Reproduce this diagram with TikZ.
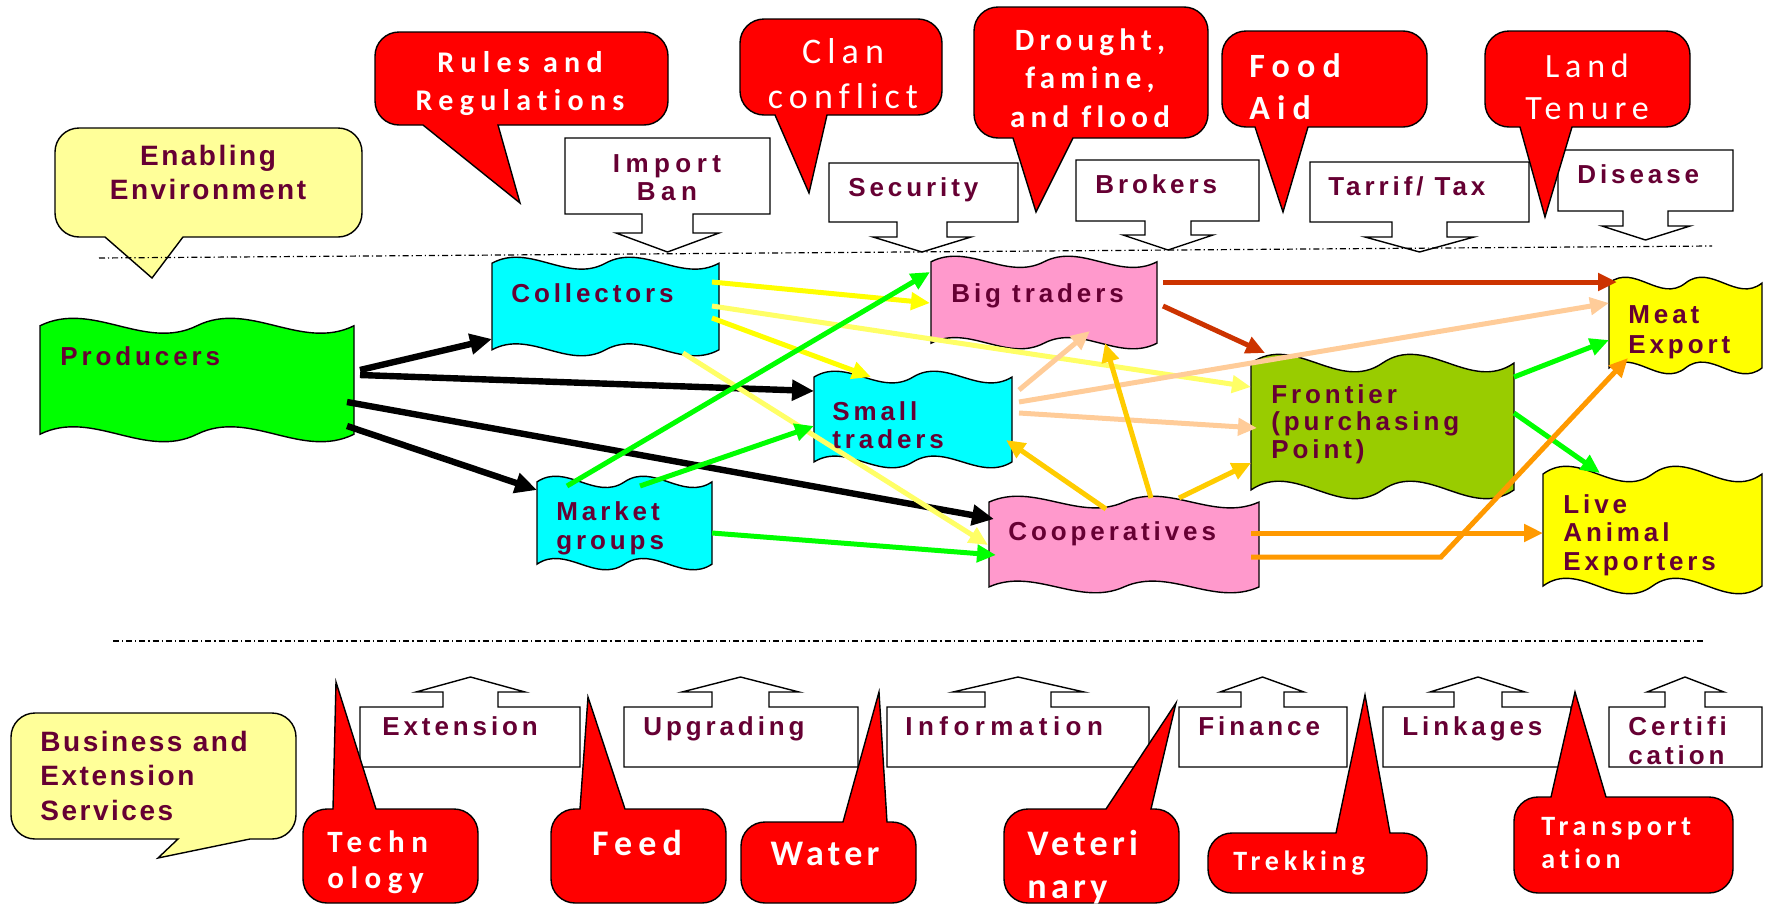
\documentclass[tikz,border=0pt]{standalone}
\usepackage{fontspec}
\usetikzlibrary{arrows.meta}

% label fonts
\newfontfamily\labf{Liberation Sans}[LetterSpace=15]
\newfontfamily\labw{Liberation Sans}[LetterSpace=21]
\newfontfamily\envf{Liberation Sans}[LetterSpace=9]
\newfontfamily\calA{Carlito}[LetterSpace=21,Ligatures=NoCommon]
\newfontfamily\calB{Carlito}[LetterSpace=17,Ligatures=NoCommon]
\newfontfamily\calC{Carlito}[LetterSpace=12,Ligatures=NoCommon]

% colours
\definecolor{txt}{HTML}{660033}
\definecolor{calred}{HTML}{FF0000}
\definecolor{paleyel}{HTML}{FFFF99}
\definecolor{prodgreen}{HTML}{00FF00}
\definecolor{cyanbox}{HTML}{00FFFF}
\definecolor{pinkbox}{HTML}{FF99CC}
\definecolor{boxolive}{HTML}{99CC00}
\definecolor{yelbox}{HTML}{FFFF00}
\definecolor{ayel}{HTML}{FFFF00}
\definecolor{apale}{HTML}{FFFF66}
\definecolor{arust}{HTML}{CC3300}
\definecolor{apeach}{HTML}{FFCC99}
\definecolor{agold}{HTML}{FFCC00}
\definecolor{aorange}{HTML}{FF9900}
\definecolor{agreen}{HTML}{00FF00}

% stacked lines with a fixed baseline distance; box baseline = first line
\newcommand\Lstack[2]{\vtop{\baselineskip=#1\lineskiplimit=-1000pt\lineskip=0pt\halign{##\hfil\cr#2\crcr}}}
\newcommand\Cstack[2]{\vtop{\baselineskip=#1\lineskiplimit=-1000pt\lineskip=0pt\halign{\hfil##\hfil\cr#2\crcr}}}

% double-wave box: name, x0, y0, x1, y1, fill
\newcommand\wave[6]{%
  \pgfmathsetmacro\wva{0.0625*(#5-#3)}%
  \pgfmathsetmacro\wvd{\wva*10/3}%
  \pgfmathsetmacro\wvw{#4-#2}%
  \filldraw[shapeline, fill=#6]
    ({#2},{#3+\wva}) .. controls ({#2+\wvw/6},{#3+\wva-\wvd}) and ({#2+\wvw/3},{#3+\wva+\wvd}) .. ({#2+\wvw/2},{#3+\wva})
    .. controls ({#2+2*\wvw/3},{#3+\wva-\wvd}) and ({#2+5*\wvw/6},{#3+\wva+\wvd}) .. ({#4},{#3+\wva})
    -- ({#4},{#5-\wva})
    .. controls ({#2+5*\wvw/6},{#5-\wva+\wvd}) and ({#2+2*\wvw/3},{#5-\wva-\wvd}) .. ({#2+\wvw/2},{#5-\wva})
    .. controls ({#2+\wvw/3},{#5-\wva+\wvd}) and ({#2+\wvw/6},{#5-\wva-\wvd}) .. ({#2},{#5-\wva}) -- cycle;
  \node[inner sep=0pt, minimum width={(#4-#2)*0.5pt}, minimum height={(#5-#3)*0.5pt}, anchor=north west] (#1) at (#2,#3) {};
}

% speech bubbles: x0, y0, x1, y1, tail base left, tail base right, tip x, tip y, style
\newcommand\calloutdown[9]{%
  \draw[#9] (#6,#4) [rounded corners=12pt] -- (#3,#4) -- (#3,#2) -- (#1,#2) -- (#1,#4) [sharp corners] -- (#5,#4) -- (#7,#8) -- cycle;}
\newcommand\calloutup[9]{%
  \draw[#9] (#5,#2) [rounded corners=12pt] -- (#1,#2) -- (#1,#4) -- (#3,#4) -- (#3,#2) [sharp corners] -- (#6,#2) -- (#7,#8) -- cycle;}

\tikzset{
  shapeline/.style={draw=black, line width=0.7pt},
  redcall/.style={fill=calred, draw=black, line width=0.7pt},
  yelcall/.style={fill=paleyel, draw=black, line width=0.7pt},
  arrbox/.style={fill=white, draw=black, line width=0.7pt},
  dashdot/.style={line width=0.6pt, dash pattern=on 3pt off 1.5pt on 0.6pt off 1.5pt},
  blk/.style={line width=3.2pt, draw=black, -{Triangle[length=11pt,width=10pt]}},
  col/.style={line width=2.5pt, draw=#1, -{Triangle[length=9.5pt,width=8.5pt]}},
  lbl/.style={inner sep=0pt, text=txt, anchor=base west, font=\labf\bfseries\fontsize{13}{14}\selectfont},
  lblw/.style={inner sep=0pt, text=txt, anchor=base, font=\labw\bfseries\fontsize{13}{14}\selectfont},
  envlbl/.style={inner sep=0pt, text=txt, font=\envf\bfseries\fontsize{14}{16}\selectfont},
  wtxt/.style={inner sep=0pt, text=white},
}

\begin{document}
\begin{tikzpicture}[x=0.5pt,y=-0.5pt]
\useasboundingbox (0,0) rectangle (1769,905);

% ---------- enabling environment (top) ----------
\calloutdown{55}{128}{362}{237}{105}{183}{152}{278}{yelcall}
\node[envlbl, anchor=base] (envT) at (208,165) {\Cstack{17pt}{Enabling\cr Environment}};

\foreach \xa/\yf/\xb/\yn/\sa/\sb/\ys/\wl/\wr/\ty in {
  565/138/770/214/642/693/233/616/719/252,
  829/163/1018/222/897/947/237/873/971/252,
  1076/160/1259/221/1145/1191/235/1123/1213/250,
  1310/162/1529/222/1392/1447/237/1365/1474/252,
  1558/150/1733/211/1623/1668/226/1602/1690/240,
  360/767/580/707/443/498/692/416/525/677,
  624/767/858/707/712/769/692/682/799/677,
  887/767/1149/707/985/1051/692/953/1084/677,
  1179/767/1347/707/1241/1284/692/1220/1304/677,
  1383/767/1571/707/1454/1502/692/1430/1525/677,
  1609/767/1762/707/1665/1705/692/1647/1724/677}
{
  \draw[arrbox] (\xa,\yf) -- (\xb,\yf) -- (\xb,\yn) -- (\sb,\yn) -- (\sb,\ys) -- (\wr,\ys)
    -- ({(\sa+\sb)/2},\ty) -- (\wl,\ys) -- (\sa,\ys) -- (\sa,\yn) -- (\xa,\yn) -- cycle;
}

\node[lblw] (importT) at (667,172) {\Cstack{14pt}{Import\cr Ban}};
\node[lbl] (secT) at (848,196) {Security};
\node[lbl] (brokT) at (1095,193) {Brokers};
\node[lbl] (taxT) at (1328,195) {Tarrif/ Tax};
\node[lbl] (disT) at (1577,183) {Disease};

\node[lbl] (extT) at (382,735) {Extension};
\node[lbl] (upgT) at (643,735) {Upgrading};
\node[lblw, anchor=base west] (infT) at (905,735) {Information};
\node[lbl] (finT) at (1198,735) {Finance};
\node[lbl] (linkT) at (1402,735) {Linkages};
\node[lbl] (certT) at (1628,735) {\Lstack{14.5pt}{Certifi\cr cation}};

% ---------- red constraint bubbles (top) ----------
\calloutdown{375}{32}{668}{125}{423}{498}{520}{203}{redcall}
\calloutdown{740}{19}{942}{115}{775}{827}{809}{193}{redcall}
\calloutdown{974}{7}{1208}{138}{1013}{1073}{1036}{212}{redcall}
\calloutdown{1222}{31}{1427}{127}{1255}{1308}{1283}{212}{redcall}
\calloutdown{1485}{31}{1690}{127}{1520}{1572}{1545}{217}{redcall}

\node[wtxt, anchor=base, font=\calA\bfseries\fontsize{15}{18}\selectfont] (rulesT) at (520,72) {\Cstack{19pt}{Rules and\cr Regulations}};
\node[wtxt, anchor=base, font=\calB\fontsize{18}{22}\selectfont] (clanT) at (843,63) {\Cstack{22.5pt}{Clan\cr conflict}};
\node[wtxt, anchor=base, font=\calB\bfseries\fontsize{15.5}{19}\selectfont] (drT) at (1090,50) {\Cstack{19.25pt}{Drought,\cr famine,\cr and flood}};
\node[wtxt, anchor=base west, font=\calA\bfseries\fontsize{17}{21}\selectfont] (foodT) at (1249,77) {\Lstack{21pt}{Food\cr Aid}};
\node[wtxt, anchor=base, font=\calB\fontsize{17}{21}\selectfont] (landT) at (1587,77) {\Cstack{21pt}{Land\cr Tenure}};

% ---------- business and extension services (bottom) ----------
\calloutdown{11}{713}{296}{839}{178}{250}{158}{858}{yelcall}
\node[envlbl, anchor=base west] (busT) at (40,751) {\Lstack{17.25pt}{Business and\cr Extension\cr Services}};

\calloutup{303}{809}{478}{903}{333}{376}{336}{682}{redcall}
\calloutup{551}{809}{726}{903}{580}{625}{588}{697}{redcall}
\calloutup{741}{822}{916}{903}{843}{887}{879}{692}{redcall}
\calloutup{1004}{809}{1179}{903}{1106}{1151}{1176}{703}{redcall}
\calloutup{1208}{833}{1427}{893}{1336}{1390}{1365}{695}{redcall}
\calloutup{1514}{797}{1733}{893}{1551}{1606}{1575}{692}{redcall}

\node[wtxt, anchor=base west, font=\calA\bfseries\fontsize{15.5}{18}\selectfont] (techT) at (327,852) {\Lstack{18pt}{Techn\cr ology}};
\node[wtxt, anchor=base, font=\calB\bfseries\fontsize{18}{22}\selectfont] (feedT) at (637,855) {Feed};
\node[wtxt, anchor=base, font=\calC\bfseries\fontsize{18}{22}\selectfont] (waterT) at (825,865) {Water};
\node[wtxt, anchor=base west, font=\calC\bfseries\fontsize{18}{22}\selectfont] (vetT) at (1027,855) {\Lstack{21.5pt}{Veteri\cr nary}};
\node[wtxt, anchor=base west, font=\calB\bfseries\fontsize{14}{17}\selectfont] (trekT) at (1233,870) {Trekking};
\node[wtxt, anchor=base west, font=\calB\bfseries\fontsize{14}{17}\selectfont] (transT) at (1541,835) {\Lstack{16.5pt}{Transport\cr ation}};

% ---------- separators ----------
\coordinate (topL) at (99,258);
\coordinate (topR) at (1712,246);
\coordinate (botL) at (113,641);
\coordinate (botR) at (1706,641);
\draw[dashdot] (topL) -- (topR);
\draw[dashdot] (botL) -- (botR);

% ---------- value chain actors ----------
\wave{prod}{40}{318}{354}{442}{prodgreen}
\wave{coll}{492}{257}{719}{356}{cyanbox}
\wave{mkt}{537}{476}{712}{570}{cyanbox}
\wave{small}{814}{371}{1012}{468}{cyanbox}
\wave{big}{931}{256}{1157}{349}{pinkbox}
\wave{front}{1251}{354}{1514}{499}{boxolive}
\wave{coop}{989}{496}{1259}{593}{pinkbox}
\wave{meat}{1609}{277}{1762}{374}{yelbox}
\wave{live}{1543}{466}{1762}{594}{yelbox}

% ---------- flows ----------
\draw[blk] ([shift={(320,52)}]prod.north west) -- ([shift={(0,82)}]coll.north west);
\draw[blk] ([shift={(320,57)}]prod.north west) -- ([shift={(0,20)}]small.north west);
\draw[blk] ([shift={(307,84)}]prod.north west) -- ([shift={(5,23)}]coop.north west);
\draw[blk] ([shift={(307,108)}]prod.north west) -- ([shift={(0,14)}]mkt.north west);

\draw[col=ayel] ([shift={(220,25)}]coll.north west) -- ([shift={(-1,47)}]big.north west);
\draw[col=apale] ([shift={(220,49)}]coll.north west) -- ([shift={(0,33)}]front.north west);
\draw[col=ayel] ([shift={(220,61)}]coll.north west) -- ([shift={(57,6)}]small.north west);
\draw[col=apale] ([shift={(191,96)}]coll.north west) -- ([shift={(-1,49)}]coop.north west);

\draw[col=agreen] ([shift={(30,10)}]mkt.north west) -- ([shift={(-1,16)}]big.north west);
\draw[col=agreen] ([shift={(103,10)}]mkt.north west) -- ([shift={(0,55)}]small.north west);
\draw[col=agreen] ([shift={(175,57)}]mkt.north west) -- ([shift={(7,59)}]coop.north west);
\draw[col=agreen] ([shift={(263,23)}]front.north west) -- ([shift={(0,63)}]meat.north west);
\draw[col=agreen] ([shift={(263,59)}]front.north west) -- ([shift={(57,7)}]live.north west);

\draw[col=arust] ([shift={(232,26)}]big.north west) -- ([shift={(8,5)}]meat.north west);
\draw[col=arust] ([shift={(232,50)}]big.north west) -- ([shift={(14,-1)}]front.north west);

\draw[col=apeach] ([shift={(205,19)}]small.north west) -- ([shift={(159,75)}]big.north west);
\draw[col=apeach] ([shift={(205,31)}]small.north west) -- ([shift={(0,26)}]meat.north west);
\draw[col=apeach] ([shift={(205,42)}]small.north west) -- ([shift={(6,74)}]front.north west);

\draw[col=agold] ([shift={(117,13)}]coop.north west) -- ([shift={(192,69)}]small.north west);
\draw[col=agold] ([shift={(162,2)}]coop.north west) -- ([shift={(174,87)}]big.north west);
\draw[col=agold] ([shift={(190,2)}]coop.north west) -- ([shift={(0,109)}]front.north west);

\coordinate (bend) at (1441,557);
\draw[col=aorange] ([shift={(262,37)}]coop.north west) -- ([shift={(0,67)}]live.north west);
\draw[col=aorange] ([shift={(262,61)}]coop.north west) -- (bend) -- ([shift={(19,81)}]meat.north west);

% ---------- actor labels ----------
\node[lbl] (prodT) at (60,365) {Producers};
\node[lbl] (collT) at (511,302) {Collectors};
\node[lbl] (mktT) at (556,520) {\Lstack{14.5pt}{Market\cr groups}};
\node[lbl] (smallT) at (832,420) {\Lstack{14pt}{Small\cr traders}};
\node[lbl] (bigT) at (951,302) {Big traders};
\node[lbl] (frontT) at (1271,403) {\Lstack{13.75pt}{Frontier\cr (purchasing\cr Point)}};
\node[lbl] (coopT) at (1008,540) {Cooperatives};
\node[lbl] (meatT) at (1628,323) {\Lstack{15pt}{Meat\cr Export}};
\node[lbl] (liveT) at (1563,513) {\Lstack{14.25pt}{Live\cr Animal\cr Exporters}};
\end{tikzpicture}
\end{document}
